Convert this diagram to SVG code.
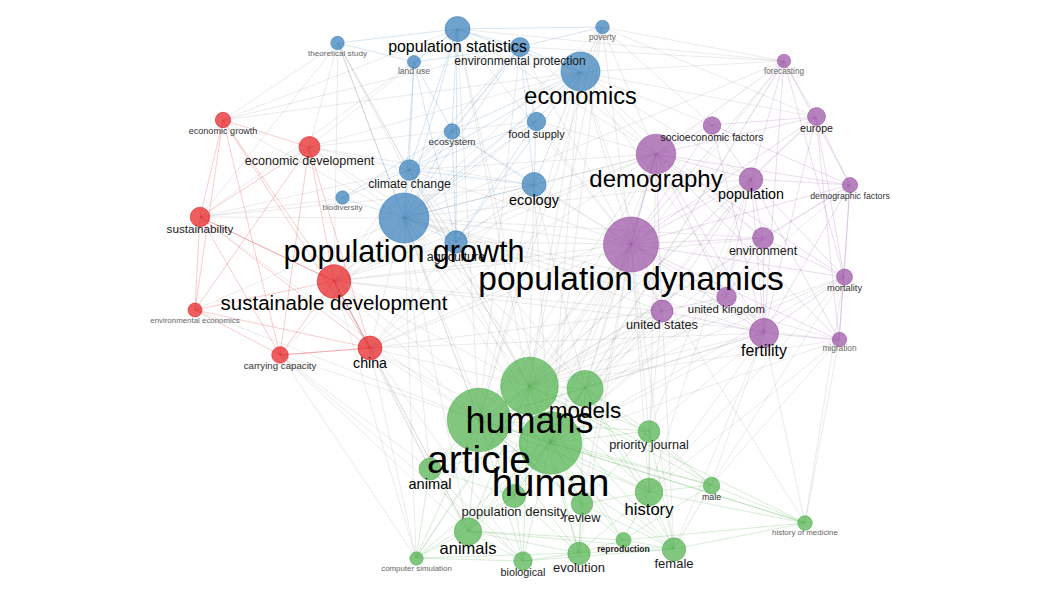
<svg xmlns="http://www.w3.org/2000/svg" width="1049" height="591" viewBox="0 0 1049 591">
<style>
text{font-family:"Liberation Sans",Arial,sans-serif;text-anchor:middle}
#edges path{fill:none;stroke-width:1}
.g{stroke:#999;stroke-opacity:.2}
.r{stroke:#e41a1c;stroke-opacity:.22}
.b{stroke:#377eb8;stroke-opacity:.2}
.p{stroke:#984ea3;stroke-opacity:.2}
.q{stroke:#4daf4a;stroke-opacity:.22}
.cr{fill:#e41a1c;fill-opacity:.7;stroke:#e41a1c;stroke-opacity:.55}
.cb{fill:#377eb8;fill-opacity:.72;stroke:#377eb8;stroke-opacity:.55}
.cp{fill:#984ea3;fill-opacity:.7;stroke:#984ea3;stroke-opacity:.55}
.cg{fill:#4daf4a;fill-opacity:.7;stroke:#4daf4a;stroke-opacity:.55}
.k1{fill:#000}.k2{fill:#1a1a1a}.k3{fill:#333}.k4{fill:#666}
</style>
<rect width="1049" height="591" fill="#fff"/>
<g id="edges">
<g class="g">
<path d="M404 218L631 244"/><path d="M404 218L656 154"/><path d="M404 218L529 386"/><path d="M404 218L550 443"/><path d="M404 218L479 420"/><path d="M404 218L585 388"/><path d="M404 218L334 281"/><path d="M404 218L370 348"/><path d="M404 218L309 147"/><path d="M404 218L200 217"/><path d="M404 218L223 120"/><path d="M404 218L195 310"/><path d="M404 218L280 355"/><path d="M404 218L751 179"/><path d="M404 218L763 238"/><path d="M404 218L764 333"/><path d="M404 218L662 311"/><path d="M404 218L430 469"/><path d="M404 218L468 531"/><path d="M404 218L649 492"/><path d="M404 218L514 496"/><path d="M404 218L726 297"/>
<path d="M580 72L656 154"/><path d="M580 72L631 244"/><path d="M580 72L712 125"/><path d="M580 72L751 179"/><path d="M580 72L529 386"/><path d="M580 72L550 443"/><path d="M580 72L334 281"/><path d="M580 72L309 147"/><path d="M580 72L223 120"/><path d="M580 72L662 311"/><path d="M580 72L784 61"/><path d="M580 72L816 117"/><path d="M580 72L479 420"/><path d="M580 72L764 333"/><path d="M580 72L763 238"/>
<path d="M656 154L529 386"/><path d="M656 154L550 443"/><path d="M656 154L479 420"/><path d="M656 154L585 388"/><path d="M656 154L534 185"/><path d="M656 154L409 170"/><path d="M656 154L334 281"/><path d="M656 154L456 242"/><path d="M656 154L649 492"/><path d="M656 154L457 29"/><path d="M656 154L520 47"/><path d="M656 154L536 121"/><path d="M656 154L602 27"/><path d="M656 154L370 348"/>
<path d="M631 244L529 386"/><path d="M631 244L550 443"/><path d="M631 244L479 420"/><path d="M631 244L585 388"/><path d="M631 244L534 185"/><path d="M631 244L334 281"/><path d="M631 244L370 348"/><path d="M631 244L456 242"/><path d="M631 244L409 170"/><path d="M631 244L468 531"/><path d="M631 244L430 469"/><path d="M631 244L649 492"/><path d="M631 244L579 553"/><path d="M631 244L649 431"/><path d="M631 244L674 549"/><path d="M631 244L582 504"/><path d="M631 244L514 496"/><path d="M631 244L457 29"/><path d="M631 244L536 121"/><path d="M631 244L452 131"/><path d="M631 244L520 47"/>
<path d="M529 386L334 281"/><path d="M529 386L370 348"/><path d="M529 386L534 185"/><path d="M529 386L456 242"/><path d="M529 386L457 29"/><path d="M529 386L751 179"/><path d="M529 386L764 333"/><path d="M529 386L662 311"/><path d="M529 386L763 238"/><path d="M529 386L726 297"/><path d="M529 386L844 277"/><path d="M529 386L839 340"/><path d="M529 386L850 185"/><path d="M529 386L816 117"/><path d="M529 386L409 170"/>
<path d="M550 443L751 179"/><path d="M550 443L764 333"/><path d="M550 443L662 311"/><path d="M550 443L844 277"/><path d="M550 443L839 340"/><path d="M550 443L850 185"/><path d="M550 443L763 238"/><path d="M550 443L726 297"/><path d="M550 443L534 185"/><path d="M550 443L370 348"/><path d="M550 443L334 281"/><path d="M550 443L457 29"/>
<path d="M479 420L764 333"/><path d="M479 420L662 311"/><path d="M479 420L534 185"/><path d="M479 420L370 348"/><path d="M479 420L334 281"/><path d="M479 420L280 355"/><path d="M479 420L195 310"/><path d="M479 420L338 43"/><path d="M479 420L457 29"/><path d="M479 420L520 47"/><path d="M479 420L200 217"/>
<path d="M585 388L751 179"/><path d="M585 388L764 333"/><path d="M585 388L534 185"/><path d="M585 388L409 170"/><path d="M585 388L844 277"/><path d="M585 388L763 238"/><path d="M585 388L784 61"/><path d="M585 388L662 311"/>
<path d="M334 281L534 185"/><path d="M334 281L409 170"/><path d="M334 281L456 242"/><path d="M334 281L520 47"/><path d="M334 281L763 238"/><path d="M334 281L662 311"/><path d="M334 281L536 121"/>
<path d="M370 348L456 242"/><path d="M370 348L534 185"/><path d="M370 348L751 179"/><path d="M370 348L662 311"/><path d="M370 348L764 333"/>
<path d="M309 147L534 185"/><path d="M309 147L409 170"/><path d="M309 147L456 242"/><path d="M309 147L457 29"/><path d="M309 147L536 121"/>
<path d="M200 217L409 170"/><path d="M200 217L342 198"/><path d="M200 217L534 185"/><path d="M200 217L338 43"/><path d="M200 217L414 62"/>
<path d="M223 120L338 43"/><path d="M223 120L520 47"/><path d="M223 120L457 29"/>
<path d="M338 43L334 281"/><path d="M338 43L309 147"/><path d="M338 43L529 386"/><path d="M338 43L409 170"/><path d="M338 43L550 443"/>
<path d="M602 27L631 244"/><path d="M602 27L784 61"/><path d="M602 27L712 125"/><path d="M602 27L816 117"/><path d="M602 27L529 386"/><path d="M602 27L404 218"/><path d="M602 27L550 443"/><path d="M602 27L479 420"/>
<path d="M784 61L457 29"/><path d="M784 61L520 47"/><path d="M784 61L529 386"/><path d="M784 61L550 443"/><path d="M784 61L404 218"/>
<path d="M416 558L370 348"/><path d="M416 558L631 244"/><path d="M416 558L280 355"/><path d="M416 558L334 281"/><path d="M416 558L404 218"/>
<path d="M805 523L631 244"/><path d="M805 523L764 333"/><path d="M805 523L839 340"/><path d="M805 523L844 277"/>
<path d="M839 340L404 218"/><path d="M839 340L334 281"/>
<path d="M649 492L839 340"/><path d="M649 492L764 333"/><path d="M649 492L844 277"/><path d="M649 492L751 179"/>
<path d="M674 549L764 333"/><path d="M674 549L662 311"/>
<path d="M711 485L764 333"/><path d="M711 485L844 277"/><path d="M711 485L839 340"/>
<path d="M430 469L370 348"/><path d="M430 469L334 281"/><path d="M430 469L280 355"/>
<path d="M468 531L370 348"/><path d="M468 531L334 281"/><path d="M468 531L280 355"/>
<path d="M523 561L370 348"/><path d="M523 561L280 355"/>
<path d="M649 431L764 333"/><path d="M649 431L662 311"/><path d="M649 431L751 179"/>
</g>
<g class="r">
<path d="M223 120L309 147"/><path d="M223 120L200 217"/><path d="M223 120L334 281"/><path d="M223 120L195 310"/><path d="M223 120L370 348"/><path d="M223 120L280 355"/>
<path d="M309 147L200 217"/><path d="M309 147L334 281"/><path d="M309 147L370 348"/><path d="M309 147L280 355"/><path d="M309 147L195 310"/>
<path d="M200 217L334 281"/><path d="M200 217L334 281"/><path d="M200 217L195 310"/><path d="M200 217L280 355"/><path d="M200 217L370 348"/>
<path d="M334 281L195 310"/><path d="M334 281L280 355"/><path d="M334 281L370 348"/><path d="M334 281L370 348"/>
<path d="M195 310L280 355"/><path d="M195 310L370 348"/><path d="M280 355L370 348"/><path d="M280 355L370 348"/>
</g>
<g class="b">
<path d="M457 29L520 47"/><path d="M457 29L580 72"/><path d="M457 29L338 43"/><path d="M457 29L414 62"/><path d="M457 29L602 27"/><path d="M457 29L404 218"/><path d="M457 29L456 242"/><path d="M457 29L409 170"/><path d="M457 29L452 131"/>
<path d="M520 47L580 72"/><path d="M520 47L404 218"/><path d="M520 47L409 170"/><path d="M520 47L452 131"/><path d="M520 47L536 121"/><path d="M520 47L602 27"/><path d="M520 47L414 62"/><path d="M520 47L534 185"/>
<path d="M580 72L404 218"/><path d="M580 72L536 121"/><path d="M580 72L534 185"/><path d="M580 72L409 170"/><path d="M580 72L456 242"/><path d="M580 72L602 27"/><path d="M580 72L452 131"/>
<path d="M414 62L404 218"/><path d="M414 62L409 170"/><path d="M414 62L452 131"/><path d="M414 62L456 242"/>
<path d="M452 131L404 218"/><path d="M452 131L409 170"/><path d="M452 131L534 185"/><path d="M452 131L456 242"/>
<path d="M536 121L404 218"/><path d="M536 121L456 242"/><path d="M536 121L534 185"/><path d="M536 121L409 170"/>
<path d="M409 170L404 218"/><path d="M409 170L342 198"/><path d="M409 170L534 185"/><path d="M409 170L456 242"/>
<path d="M534 185L404 218"/><path d="M534 185L456 242"/>
<path d="M342 198L404 218"/><path d="M342 198L452 131"/><path d="M456 242L404 218"/><path d="M338 43L404 218"/><path d="M338 43L414 62"/>
</g>
<g class="p">
<path d="M656 154L631 244"/><path d="M656 154L631 244"/><path d="M656 154L751 179"/><path d="M656 154L712 125"/><path d="M656 154L816 117"/><path d="M656 154L850 185"/><path d="M656 154L763 238"/><path d="M656 154L764 333"/><path d="M656 154L662 311"/><path d="M656 154L726 297"/><path d="M656 154L844 277"/><path d="M656 154L784 61"/><path d="M656 154L839 340"/>
<path d="M631 244L751 179"/><path d="M631 244L763 238"/><path d="M631 244L764 333"/><path d="M631 244L726 297"/><path d="M631 244L662 311"/><path d="M631 244L844 277"/><path d="M631 244L839 340"/><path d="M631 244L850 185"/><path d="M631 244L816 117"/><path d="M631 244L712 125"/><path d="M631 244L784 61"/>
<path d="M751 179L850 185"/><path d="M751 179L816 117"/><path d="M751 179L764 333"/><path d="M751 179L763 238"/><path d="M751 179L844 277"/><path d="M751 179L712 125"/><path d="M751 179L784 61"/><path d="M751 179L839 340"/><path d="M751 179L726 297"/><path d="M751 179L662 311"/>
<path d="M712 125L816 117"/><path d="M712 125L850 185"/><path d="M712 125L764 333"/>
<path d="M784 61L816 117"/><path d="M784 61L850 185"/><path d="M784 61L844 277"/><path d="M784 61L764 333"/>
<path d="M816 117L850 185"/><path d="M816 117L844 277"/><path d="M816 117L764 333"/><path d="M816 117L839 340"/>
<path d="M850 185L844 277"/><path d="M850 185L839 340"/><path d="M850 185L764 333"/><path d="M850 185L763 238"/>
<path d="M763 238L764 333"/><path d="M763 238L844 277"/><path d="M763 238L726 297"/>
<path d="M844 277L839 340"/><path d="M844 277L764 333"/>
<path d="M764 333L839 340"/><path d="M764 333L662 311"/><path d="M764 333L726 297"/><path d="M726 297L662 311"/>
</g>
<g class="q">
<path d="M529 386L479 420"/><path d="M529 386L550 443"/><path d="M529 386L585 388"/><path d="M479 420L550 443"/><path d="M479 420L585 388"/><path d="M550 443L585 388"/>
<path d="M479 420L649 431"/><path d="M479 420L430 469"/><path d="M479 420L514 496"/><path d="M479 420L582 504"/><path d="M479 420L649 492"/><path d="M479 420L711 485"/><path d="M479 420L468 531"/><path d="M479 420L416 558"/><path d="M479 420L523 561"/><path d="M479 420L579 553"/><path d="M479 420L623 540"/><path d="M479 420L674 549"/><path d="M479 420L805 523"/>
<path d="M529 386L649 431"/><path d="M529 386L430 469"/><path d="M529 386L514 496"/><path d="M529 386L582 504"/><path d="M529 386L649 492"/><path d="M529 386L711 485"/><path d="M529 386L468 531"/><path d="M529 386L416 558"/><path d="M529 386L523 561"/><path d="M529 386L579 553"/><path d="M529 386L623 540"/><path d="M529 386L674 549"/><path d="M529 386L805 523"/>
<path d="M550 443L649 431"/><path d="M550 443L430 469"/><path d="M550 443L514 496"/><path d="M550 443L582 504"/><path d="M550 443L649 492"/><path d="M550 443L711 485"/><path d="M550 443L468 531"/><path d="M550 443L416 558"/><path d="M550 443L523 561"/><path d="M550 443L579 553"/><path d="M550 443L623 540"/><path d="M550 443L674 549"/><path d="M550 443L805 523"/>
<path d="M585 388L649 431"/><path d="M585 388L649 492"/><path d="M585 388L468 531"/><path d="M585 388L579 553"/><path d="M585 388L514 496"/><path d="M585 388L674 549"/><path d="M585 388L711 485"/>
<path d="M430 469L468 531"/><path d="M430 469L416 558"/><path d="M430 469L523 561"/><path d="M430 469L514 496"/>
<path d="M468 531L416 558"/><path d="M468 531L523 561"/><path d="M468 531L579 553"/><path d="M468 531L514 496"/><path d="M468 531L623 540"/><path d="M468 531L674 549"/>
<path d="M514 496L523 561"/><path d="M514 496L579 553"/><path d="M514 496L416 558"/>
<path d="M579 553L523 561"/><path d="M579 553L623 540"/><path d="M579 553L674 549"/><path d="M579 553L649 492"/>
<path d="M623 540L674 549"/><path d="M623 540L649 492"/><path d="M623 540L711 485"/>
<path d="M649 492L674 549"/><path d="M649 492L711 485"/><path d="M649 492L649 431"/><path d="M649 492L582 504"/><path d="M649 492L805 523"/>
<path d="M711 485L674 549"/><path d="M711 485L805 523"/><path d="M711 485L649 431"/>
<path d="M805 523L674 549"/><path d="M805 523L623 540"/>
<path d="M416 558L523 561"/><path d="M416 558L579 553"/>
<path d="M649 431L674 549"/><path d="M649 431L582 504"/><path d="M582 504L579 553"/><path d="M582 504L674 549"/><path d="M523 561L674 549"/>
</g>
</g>
<g id="nodes">
<g id="n-environmental-economics"><circle class="cr" cx="195" cy="310" r="7"/><text class="k4" x="195" y="322.5" font-size="7.9">environmental economics</text></g>
<g id="n-economic-growth"><circle class="cr" cx="223" cy="120" r="7.7"/><text class="k3" x="223" y="134" font-size="9.1">economic growth</text></g>
<g id="n-carrying-capacity"><circle class="cr" cx="280" cy="355" r="8.3"/><text class="k3" x="280" y="369" font-size="9.7">carrying capacity</text></g>
<g id="n-sustainability"><circle class="cr" cx="200" cy="217" r="9.8"/><text class="k2" x="200" y="233" font-size="11.7">sustainability</text></g>
<g id="n-economic-development"><circle class="cr" cx="309.5" cy="147" r="10.5"/><text class="k2" x="309.5" y="165" font-size="12.6">economic development</text></g>
<g id="n-china"><circle class="cr" cx="370" cy="348" r="12"/><text class="k1" x="370" y="368" font-size="14.2">china</text></g>
<g id="n-sustainable-development"><circle class="cr" cx="334" cy="281.5" r="16.8"/><text class="k1" x="334" y="310" font-size="20.5">sustainable development</text></g>

<g id="n-theoretical-study"><circle class="cb" cx="337.5" cy="43" r="6.7"/><text class="k4" x="337.5" y="56" font-size="8.1">theoretical study</text></g>
<g id="n-poverty"><circle class="cb" cx="602.5" cy="27" r="6.8"/><text class="k4" x="602.5" y="39.5" font-size="8.2">poverty</text></g>
<g id="n-land-use"><circle class="cb" cx="414" cy="62" r="6.5"/><text class="k4" x="414" y="74" font-size="8.5">land use</text></g>
<g id="n-biodiversity"><circle class="cb" cx="342.5" cy="197.5" r="6.7"/><text class="k4" x="342.5" y="210" font-size="8">biodiversity</text></g>
<g id="n-ecosystem"><circle class="cb" cx="452" cy="131.5" r="7.8"/><text class="k3" x="452" y="145" font-size="9.8">ecosystem</text></g>
<g id="n-food-supply"><circle class="cb" cx="536.5" cy="121.5" r="9.2"/><text class="k2" x="536.5" y="137.5" font-size="11.1">food supply</text></g>
<g id="n-climate-change"><circle class="cb" cx="409.5" cy="170" r="10.3"/><text class="k2" x="409.5" y="188" font-size="12.3">climate change</text></g>
<g id="n-agriculture"><circle class="cb" cx="456" cy="242" r="11.2"/><text class="k2" x="456" y="261" font-size="12.5">agriculture</text></g>
<g id="n-ecology"><circle class="cb" cx="534" cy="184.5" r="12"/><text class="k1" x="534" y="204.5" font-size="14.5">ecology</text></g>
<g id="n-economics"><circle class="cb" cx="580.5" cy="71.5" r="19.5"/><text class="k1" x="580.5" y="104" font-size="23.5">economics</text></g>
<g id="n-environmental-protection"><circle class="cb" cx="520" cy="47" r="9.5"/><text class="k2" x="520" y="65" font-size="12">environmental protection</text></g>
<g id="n-population-statistics"><circle class="cb" cx="457.5" cy="29" r="12.5"/><text class="k1" x="457.5" y="52" font-size="15.9">population statistics</text></g>
<g id="n-population-growth"><circle class="cb" cx="404" cy="218" r="25"/><text class="k1" x="404" y="262" font-size="30.5">population growth</text></g>

<g id="n-forecasting"><circle class="cp" cx="784" cy="61" r="6.7"/><text class="k4" x="784" y="74" font-size="8.2">forecasting</text></g>
<g id="n-migration"><circle class="cp" cx="839.5" cy="339.5" r="7.2"/><text class="k4" x="839.5" y="351" font-size="8.3">migration</text></g>
<g id="n-demographic-factors"><circle class="cp" cx="850" cy="185" r="7.6"/><text class="k3" x="850" y="198.5" font-size="8.8">demographic factors</text></g>
<g id="n-mortality"><circle class="cp" cx="844.5" cy="277" r="8"/><text class="k3" x="844.5" y="290.5" font-size="9.3">mortality</text></g>
<g id="n-europe"><circle class="cp" cx="816.5" cy="116.5" r="9"/><text class="k2" x="816.5" y="132" font-size="10.6">europe</text></g>
<g id="n-environment"><circle class="cp" cx="763" cy="238" r="10.5"/><text class="k2" x="763" y="255" font-size="12.4">environment</text></g>
<g id="n-united-kingdom"><circle class="cp" cx="726.5" cy="297" r="9.8"/><text class="k2" x="726.5" y="313" font-size="11.4">united kingdom</text></g>
<g id="n-united-states"><circle class="cp" cx="662" cy="311" r="11"/><text class="k2" x="662" y="329" font-size="12.7">united states</text></g>
<g id="n-population"><circle class="cp" cx="751" cy="179.5" r="11.8"/><text class="k1" x="751" y="199" font-size="14.3">population</text></g>
<g id="n-fertility"><circle class="cp" cx="764" cy="333" r="14.5"/><text class="k1" x="764" y="356" font-size="15.9">fertility</text></g>
<g id="n-demography"><circle class="cp" cx="656" cy="154" r="19.8"/><text class="k1" x="656" y="187" font-size="24">demography</text></g>
<g id="n-socioeconomic-factors"><circle class="cp" cx="712" cy="125.5" r="8.8"/><text class="k2" x="712" y="141" font-size="10.4">socioeconomic factors</text></g>
<g id="n-population-dynamics"><circle class="cp" cx="631" cy="244.5" r="27.5"/><text class="k1" x="631" y="290" font-size="33.5">population dynamics</text></g>

<g id="n-computer-simulation"><circle class="cg" cx="416.5" cy="558.5" r="6.7"/><text class="k4" x="416.5" y="571" font-size="7.9">computer simulation</text></g>
<g id="n-history-of-medicine"><circle class="cg" cx="805" cy="523" r="7.3"/><text class="k4" x="805" y="535" font-size="7.9">history of medicine</text></g>
<g id="n-reproduction"><circle class="cg" cx="623.5" cy="540" r="7.5"/><text class="k2" x="623.5" y="552" font-size="8.5" font-weight="bold">reproduction</text></g>
<g id="n-male"><circle class="cg" cx="711.5" cy="485.5" r="8.3"/><text class="k3" x="711.5" y="500" font-size="8.8">male</text></g>
<g id="n-biological"><circle class="cg" cx="523" cy="561" r="9.2"/><text class="k2" x="523" y="576" font-size="10.8">biological</text></g>
<g id="n-evolution"><circle class="cg" cx="579" cy="553.5" r="11.2"/><text class="k2" x="579" y="572" font-size="13">evolution</text></g>
<g id="n-female"><circle class="cg" cx="674" cy="549.5" r="11.7"/><text class="k2" x="674" y="568" font-size="13">female</text></g>
<g id="n-priority-journal"><circle class="cg" cx="649" cy="431.5" r="10.8"/><text class="k2" x="649" y="449" font-size="12.7">priority journal</text></g>
<g id="n-review"><circle class="cg" cx="582" cy="504" r="10.8"/><text class="k2" x="582" y="522" font-size="12.8">review</text></g>
<g id="n-population-density"><circle class="cg" cx="514" cy="496" r="11.5"/><text class="k2" x="514" y="515.5" font-size="13">population density</text></g>
<g id="n-animals"><circle class="cg" cx="468" cy="531.5" r="13.7"/><text class="k1" x="468" y="554" font-size="16.5">animals</text></g>
<g id="n-animal"><circle class="cg" cx="430" cy="469" r="11"/><text class="k1" x="430" y="489" font-size="14.6">animal</text></g>
<g id="n-history"><circle class="cg" cx="649" cy="492" r="13.8"/><text class="k1" x="649" y="515" font-size="16.6">history</text></g>
<g id="n-human"><circle class="cg" cx="550.5" cy="443" r="31.2"/><text class="k1" x="550.5" y="496" font-size="38.5">human</text></g>
<g id="n-article"><circle class="cg" cx="479" cy="420" r="31.7"/><text class="k1" x="479" y="473" font-size="39">article</text></g>
<g id="n-models"><circle class="cg" cx="585" cy="388.5" r="18"/><text class="k1" x="585" y="418" font-size="22.5">models</text></g>
<g id="n-humans"><circle class="cg" cx="529.5" cy="386" r="28.8"/><text class="k1" x="529.5" y="433" font-size="36">humans</text></g>
</g>
</svg>
